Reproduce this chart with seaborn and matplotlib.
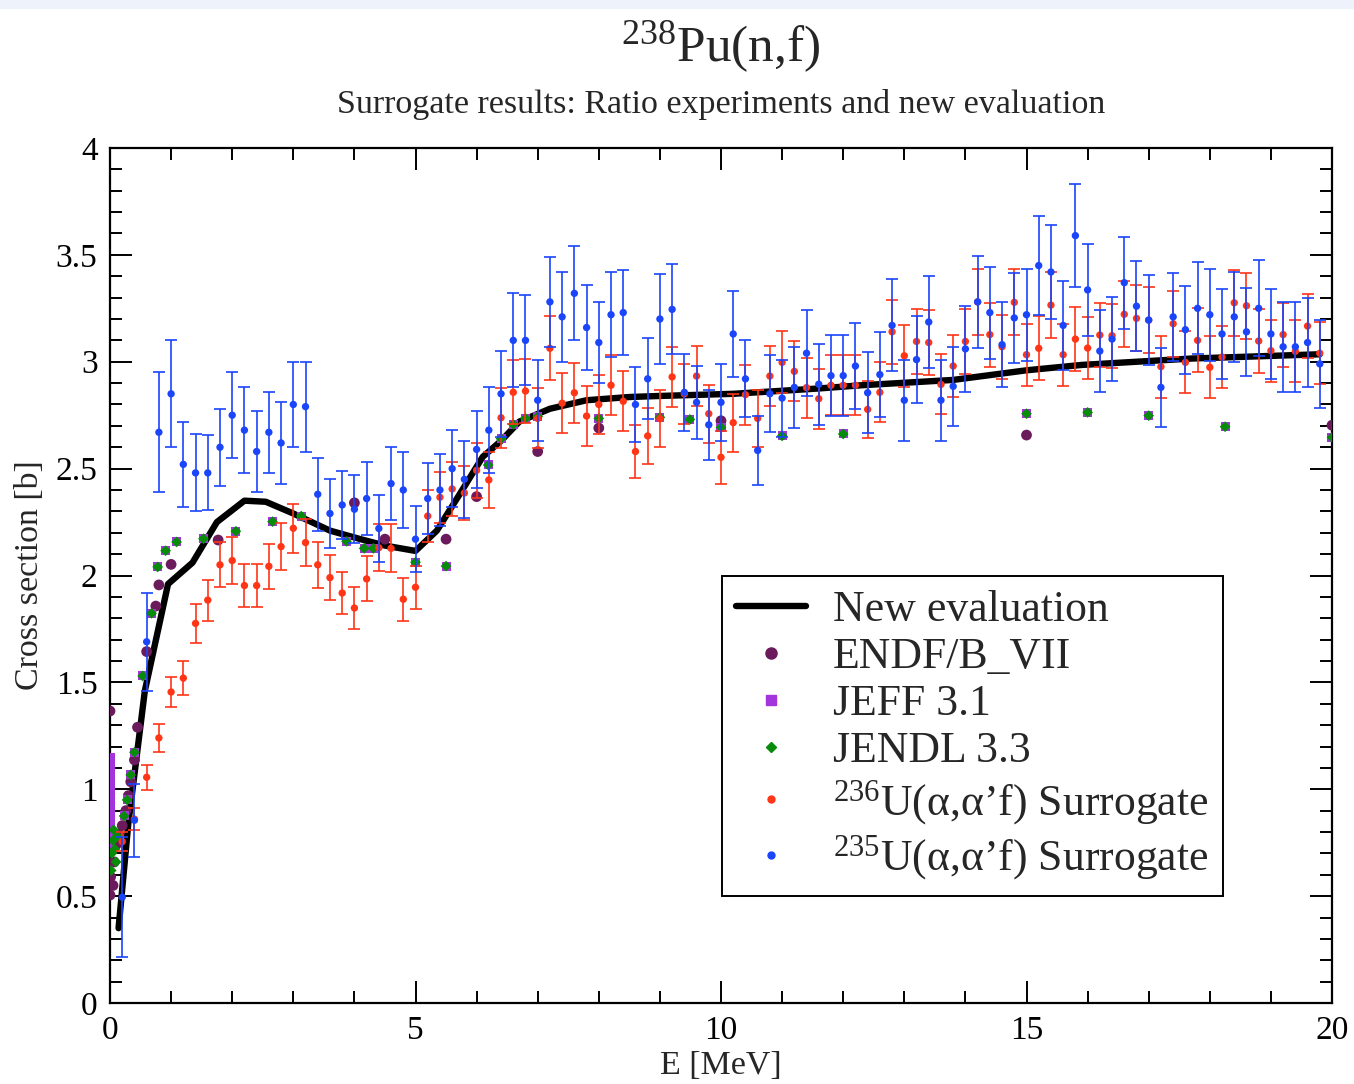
import matplotlib
matplotlib.use("Agg")
import matplotlib.pyplot as plt
from matplotlib.lines import Line2D
from matplotlib.patches import Rectangle
from matplotlib.ticker import MultipleLocator
import seaborn as sns

# =============================================================================
# DATA
# =============================================================================
# surrogate ratio experiments share one energy grid [MeV]
surr_e = [
    0.2, 0.4, 0.6, 0.8, 1.0, 1.2, 1.4, 1.6, 1.8, 2.0,
    2.2, 2.4, 2.6, 2.8, 3.0, 3.2, 3.4, 3.6, 3.8, 4.0,
    4.2, 4.4, 4.6, 4.8, 5.0, 5.2, 5.4, 5.6, 5.8, 6.0,
    6.2, 6.4, 6.6, 6.8, 7.0, 7.2, 7.4, 7.6, 7.8, 8.0,
    8.2, 8.4, 8.6, 8.8, 9.0, 9.2, 9.4, 9.6, 9.8, 10.0,
    10.2, 10.4, 10.6, 10.8, 11.0, 11.2, 11.4, 11.6, 11.8, 12.0,
    12.2, 12.4, 12.6, 12.8, 13.0, 13.2, 13.4, 13.6, 13.8, 14.0,
    14.2, 14.4, 14.6, 14.8, 15.0, 15.2, 15.4, 15.6, 15.8, 16.0,
    16.2, 16.4, 16.6, 16.8, 17.0, 17.2, 17.4, 17.6, 17.8, 18.0,
    18.2, 18.4, 18.6, 18.8, 19.0, 19.2, 19.4, 19.6, 19.8,
]

# 235U(a,a'f) surrogate (blue)
u235_xs = [
    0.495, 0.855, 1.69, 2.67, 2.85, 2.52, 2.48, 2.48, 2.60, 2.75,
    2.68, 2.58, 2.67, 2.62, 2.80, 2.79, 2.38, 2.29, 2.33, 2.31,
    2.36, 2.22, 2.43, 2.40, 2.17, 2.36, 2.40, 2.50, 2.45, 2.59,
    2.68, 2.85, 3.10, 3.10, 2.82, 3.28, 3.21, 3.32, 3.16, 3.09,
    3.22, 3.23, 2.80, 2.92, 3.20, 3.245, 2.857, 2.81, 2.705, 2.81,
    3.13, 2.92, 2.585, 2.85, 2.83, 2.88, 3.04, 2.895, 2.935, 2.935,
    2.98, 2.855, 2.94, 3.17, 2.82, 3.01, 3.186, 2.82, 2.885, 3.06,
    3.28, 3.23, 3.08, 3.205, 3.22, 3.45, 3.42, 3.17, 3.59, 3.336,
    3.05, 3.106, 3.37, 3.26, 3.195, 2.88, 3.21, 3.15, 3.25, 3.22,
    3.13, 3.21, 3.14, 3.25, 3.13, 3.07, 3.07, 3.09, 2.99,
]
u235_err = [
    0.28, 0.17, 0.23, 0.28, 0.25, 0.20, 0.18, 0.175, 0.18, 0.20,
    0.20, 0.19, 0.19, 0.19, 0.20, 0.21, 0.17, 0.16, 0.16, 0.16,
    0.17, 0.155, 0.17, 0.18, 0.155, 0.165, 0.17, 0.18, 0.18, 0.18,
    0.20, 0.20, 0.22, 0.21, 0.19, 0.21, 0.21, 0.22, 0.20, 0.19,
    0.20, 0.20, 0.175, 0.19, 0.21, 0.21, 0.18, 0.17, 0.165, 0.18,
    0.20, 0.18, 0.16, 0.18, 0.18, 0.19, 0.20, 0.19, 0.19, 0.19,
    0.20, 0.19, 0.20, 0.215, 0.19, 0.205, 0.215, 0.19, 0.185, 0.20,
    0.215, 0.215, 0.20, 0.21, 0.215, 0.23, 0.22, 0.21, 0.24, 0.215,
    0.19, 0.195, 0.215, 0.21, 0.21, 0.185, 0.205, 0.205, 0.215, 0.215,
    0.21, 0.21, 0.205, 0.225, 0.21, 0.21, 0.21, 0.21, 0.205,
]

# 236U(a,a'f) surrogate (red)
u236_xs = [
    0.755, 0.86, 1.056, 1.24, 1.455, 1.52, 1.776, 1.885, 2.05, 2.07,
    1.953, 1.953, 2.043, 2.135, 2.221, 2.154, 2.05, 1.99, 1.918, 1.848,
    1.984, 2.13, 2.127, 1.889, 1.945, 2.278, 2.366, 2.405, 2.386, 2.492,
    2.447, 2.738, 2.857, 2.863, 2.735, 3.063, 2.806, 2.855, 2.746, 2.80,
    2.89, 2.815, 2.58, 2.653, 2.734, 2.929, 2.85, 2.933, 2.757, 2.553,
    2.715, 2.846, 2.735, 2.933, 2.997, 2.955, 2.879, 2.827, 2.89, 2.89,
    2.89, 2.777, 2.857, 3.14, 3.028, 3.095, 3.09, 2.894, 2.98, 3.095,
    3.28, 3.127, 3.07, 3.278, 3.033, 3.063, 3.265, 3.033, 3.106, 3.064,
    3.125, 3.122, 3.222, 3.203, 3.195, 2.977, 3.178, 2.997, 3.10, 2.974,
    3.022, 3.276, 3.262, 3.097, 3.052, 3.127, 3.049, 3.167, 3.04,
]
u236_err = [
    0.045, 0.05, 0.058, 0.064, 0.072, 0.078, 0.09, 0.096, 0.105, 0.11,
    0.10, 0.10, 0.106, 0.109, 0.115, 0.11, 0.109, 0.105, 0.10, 0.10,
    0.105, 0.11, 0.112, 0.10, 0.10, 0.12, 0.12, 0.125, 0.125, 0.13,
    0.13, 0.14, 0.15, 0.15, 0.14, 0.15, 0.14, 0.14, 0.14, 0.14,
    0.14, 0.14, 0.125, 0.13, 0.135, 0.14, 0.14, 0.14, 0.135, 0.125,
    0.135, 0.14, 0.135, 0.14, 0.145, 0.14, 0.14, 0.14, 0.14, 0.14,
    0.14, 0.135, 0.14, 0.15, 0.145, 0.15, 0.15, 0.14, 0.145, 0.15,
    0.155, 0.15, 0.15, 0.155, 0.145, 0.15, 0.155, 0.145, 0.15, 0.145,
    0.15, 0.15, 0.155, 0.155, 0.155, 0.145, 0.155, 0.145, 0.15, 0.145,
    0.145, 0.155, 0.155, 0.15, 0.145, 0.15, 0.145, 0.15, 0.145,
]

# new evaluation (black curve)
eval_e = [0.14, 0.30, 0.57, 0.95, 1.35, 1.75, 2.20, 2.55, 3.00, 3.60,
          4.10, 4.50, 5.00, 5.35, 5.70, 6.10, 6.40, 6.70, 7.20, 7.80,
          8.50, 9.00, 10.2, 11.6, 12.3, 13.8, 15.0, 15.9, 17.7, 19.8]
eval_xs = [0.35, 0.84, 1.46, 1.96, 2.06, 2.25, 2.35, 2.345, 2.29, 2.21,
           2.17, 2.14, 2.115, 2.21, 2.37, 2.555, 2.63, 2.72, 2.78, 2.82,
           2.835, 2.84, 2.85, 2.875, 2.89, 2.915, 2.96, 2.985, 3.015, 3.035]

# ENDF/B-VII
endf_e = [0.0, 0.0, 0.01, 0.05, 0.07, 0.10, 0.14, 0.20, 0.26, 0.30,
          0.34, 0.40, 0.45, 0.60, 0.75, 0.80, 1.00, 1.77, 4.00, 4.50,
          5.50, 6.00, 7.00, 8.00, 10.0, 15.0, 20.0]
endf_xs = [1.366, 0.505, 0.59, 0.55, 0.66, 0.74, 0.79, 0.83, 0.90, 0.97,
           1.035, 1.137, 1.29, 1.644, 1.857, 1.956, 2.052, 2.166, 2.34, 2.17,
           2.17, 2.369, 2.58, 2.69, 2.724, 2.657, 2.703]

# JEFF 3.1
jeff_e = [0.01, 0.01, 0.01, 0.01, 0.01, 0.01, 0.01, 0.01, 0.01, 0.01,
          0.01, 0.01, 0.23, 0.28, 0.34, 0.40, 0.535, 0.68, 0.78, 0.91,
          1.09, 1.53, 2.06, 2.66, 3.13, 3.87, 4.16, 4.31, 5.0, 5.5,
          6.19, 6.4, 6.6, 6.8, 7.0, 8.0, 9.0, 9.49, 10.0, 11.0,
          12.0, 15.0, 16.0, 17.0, 18.25, 20.0]
jeff_xs = [0.72, 0.76, 0.80, 0.84, 0.88, 0.92, 0.96, 1.00, 1.04, 1.08,
           1.12, 1.15, 0.875, 0.95, 1.067, 1.173, 1.53, 1.823, 2.04, 2.116,
           2.157, 2.172, 2.207, 2.252, 2.278, 2.16, 2.127, 2.127, 2.062, 2.044,
           2.517, 2.64, 2.707, 2.735, 2.743, 2.735, 2.74, 2.73, 2.693, 2.653,
           2.662, 2.757, 2.763, 2.748, 2.696, 2.646]

# JENDL 3.3
jendl_e = [0.02, 0.03, 0.05, 0.06, 0.08, 0.10, 0.12, 0.23, 0.28, 0.34,
           0.40, 0.535, 0.68, 0.78, 0.91, 1.09, 1.53, 2.06, 2.66, 3.13,
           3.87, 4.16, 4.31, 5.0, 5.5, 6.19, 6.4, 6.6, 6.8, 7.0,
           8.0, 9.0, 9.49, 10.0, 11.0, 12.0, 15.0, 16.0, 17.0, 18.25, 20.0]
jendl_xs = [0.62, 0.70, 0.76, 0.81, 0.72, 0.66, 0.78, 0.875, 0.95, 1.067,
            1.173, 1.53, 1.823, 2.04, 2.116, 2.157, 2.172, 2.207, 2.252, 2.278,
            2.16, 2.127, 2.127, 2.062, 2.044, 2.517, 2.64, 2.707, 2.735, 2.743,
            2.735, 2.74, 2.73, 2.693, 2.653, 2.662, 2.757, 2.763, 2.748, 2.696, 2.646]

LABELS = ["New evaluation", "ENDF/B_VII", "JEFF 3.1", "JENDL 3.3",
          r"$^{236}$U(α,α’f) Surrogate", r"$^{235}$U(α,α’f) Surrogate"]

C_ENDF = "#6b1b5c"
C_JEFF = "#a434dc"
C_JENDL = "#078c0a"
C_RED = "#ff3516"
C_BLUE = "#1a45fb"


# =============================================================================
# PLOT
# =============================================================================
sns.set_style("ticks")
plt.rcParams["font.family"] = ["Liberation Serif", "DejaVu Serif"]
plt.rcParams["mathtext.fontset"] = "custom"
plt.rcParams["mathtext.rm"] = "Liberation Serif"
plt.rcParams["mathtext.it"] = "Liberation Serif:italic"
plt.rcParams["mathtext.bf"] = "Liberation Serif:bold"
plt.rcParams["mathtext.default"] = "rm"

fig = plt.figure(figsize=(13.54, 10.84), dpi=100)
fig.patches.append(Rectangle((0, 1 - 8 / 1084), 1, 8 / 1084, transform=fig.transFigure,
                             color="#eef2fb", zorder=0))
ax = fig.add_axes([110 / 1354, 1 - 1003 / 1084, 1222 / 1354, 855 / 1084])

sns.lineplot(x=eval_e, y=eval_xs, color="black", lw=4.6, sort=False, ax=ax, zorder=2)
sns.scatterplot(x=endf_e, y=endf_xs, marker="o", s=60, color=C_ENDF, edgecolor="none",
                ax=ax, zorder=3)
sns.scatterplot(x=jeff_e, y=jeff_xs, marker="s", s=42, color=C_JEFF, edgecolor="none",
                ax=ax, zorder=3.1)
sns.scatterplot(x=jendl_e, y=jendl_xs, marker="D", s=30, color=C_JENDL, edgecolor="none",
                ax=ax, zorder=3.2)

ax.errorbar(surr_e, u236_xs, yerr=u236_err, fmt="none", ecolor=C_RED, elinewidth=1.2,
            capsize=4.2, capthick=1.2, zorder=4)
sns.scatterplot(x=surr_e, y=u236_xs, marker="o", s=28, color=C_RED, edgecolor="none",
                ax=ax, zorder=4.1)
ax.errorbar(surr_e, u235_xs, yerr=u235_err, fmt="none", ecolor=C_BLUE, elinewidth=1.2,
            capsize=4.2, capthick=1.2, zorder=5)
sns.scatterplot(x=surr_e, y=u235_xs, marker="o", s=28, color=C_BLUE, edgecolor="none",
                ax=ax, zorder=5.1)

ax.set_xlim(0, 20)
ax.set_ylim(0, 4)
ax.xaxis.set_major_locator(MultipleLocator(5))
ax.xaxis.set_minor_locator(MultipleLocator(1))
ax.yaxis.set_major_locator(MultipleLocator(0.5))
ax.yaxis.set_minor_locator(MultipleLocator(0.1))
ax.set_yticks([0, 0.5, 1, 1.5, 2, 2.5, 3, 3.5, 4], ["0", "0.5", "1", "1.5", "2", "2.5", "3", "3.5", "4"])
ax.tick_params(which="both", direction="in", top=True, right=True, width=1.4, color="black",
               labelsize=24, labelcolor="black")
ax.tick_params(which="major", length=16, pad=9)
ax.tick_params(which="minor", length=8.5)
for sp in ax.spines.values():
    sp.set_linewidth(1.6)
    sp.set_color("black")

ax.set_xlabel("E [MeV]", fontsize=24.5, labelpad=3)
ax.set_ylabel("Cross section [b]", fontsize=24.5, labelpad=8)

fig.text(721 / 1354, 1 - 47 / 1084, r"$^{238}$Pu(n,f)", ha="center", va="center", fontsize=37)
fig.text(721 / 1354, 1 - 104 / 1084, "Surrogate results: Ratio experiments and new evaluation",
         ha="center", va="center", fontsize=24.5)

handles = [
    Line2D([], [], color="black", lw=4.6),
    Line2D([], [], marker="o", ls="none", color=C_ENDF, ms=8),
    Line2D([], [], marker="s", ls="none", color=C_JEFF, ms=6.5),
    Line2D([], [], marker="D", ls="none", color=C_JENDL, ms=5.5),
    Line2D([], [], marker="o", ls="none", color=C_RED, ms=5),
    Line2D([], [], marker="o", ls="none", color=C_BLUE, ms=5),
]
leg = ax.legend(handles, LABELS, loc="upper left", bbox_to_anchor=(612 / 1222, 427 / 855),
                borderaxespad=0, fontsize=31.5, frameon=True, fancybox=False, framealpha=1,
                edgecolor="black", handlelength=1.6, handletextpad=0.62, labelspacing=0.16,
                borderpad=0.32)
leg.get_frame().set_linewidth(1.4)

fig.savefig("out.png", dpi=100, facecolor="white")
plt.close(fig)
